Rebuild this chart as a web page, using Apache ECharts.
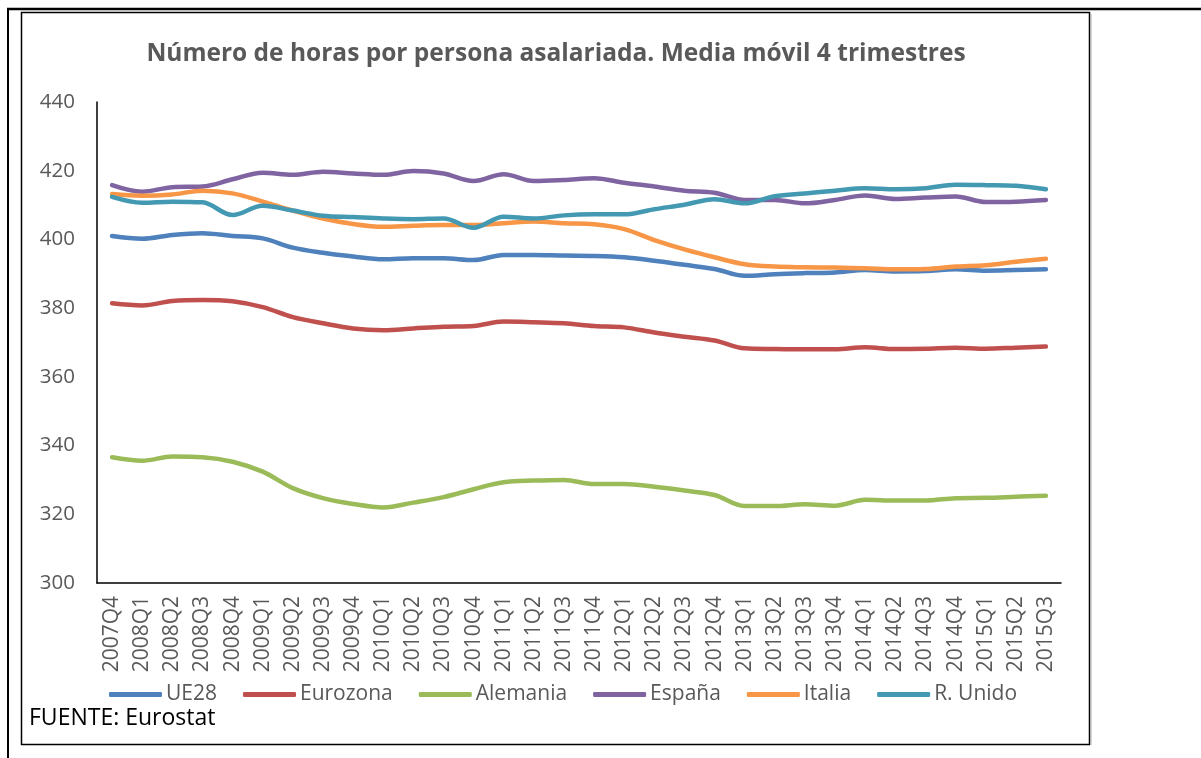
<!DOCTYPE html>
<html>
<head>
<meta charset="utf-8">
<script src="https://cdn.jsdelivr.net/npm/echarts@6/dist/echarts.min.js"></script>
<style>
  html, body { margin: 0; padding: 0; background: #fff; }
  #chart { width: 1201px; height: 758px; }
</style>
</head>
<body>
<div id="chart"></div>
<script>
// trimestres
const categories = [
    "2007Q4", "2008Q1", "2008Q2", "2008Q3", "2008Q4", "2009Q1", "2009Q2", "2009Q3",
    "2009Q4", "2010Q1", "2010Q2", "2010Q3", "2010Q4", "2011Q1", "2011Q2", "2011Q3",
    "2011Q4", "2012Q1", "2012Q2", "2012Q3", "2012Q4", "2013Q1", "2013Q2", "2013Q3",
    "2013Q4", "2014Q1", "2014Q2", "2014Q3", "2014Q4", "2015Q1", "2015Q2", "2015Q3"
]

const ue28 = [401.0, 400.2, 401.3, 401.8, 401.0, 400.3, 397.6, 396.1, 395.0, 394.2, 394.5, 394.5, 394.0, 395.5, 395.5, 395.3,
    395.2, 394.8, 393.8, 392.6, 391.4, 389.4, 389.9, 390.2, 390.4, 391.1, 390.7, 390.8, 391.3, 390.9, 391.1, 391.3]
const eurozona = [381.4, 380.8, 382.1, 382.4, 382.0, 380.3, 377.4, 375.6, 374.1, 373.6, 374.1, 374.6, 374.8, 376.1, 375.9, 375.6,
    374.8, 374.4, 372.9, 371.7, 370.6, 368.3, 368.1, 368.0, 368.0, 368.6, 368.1, 368.2, 368.5, 368.2, 368.5, 368.8]
const alemania = [336.6, 335.6, 336.8, 336.6, 335.3, 332.4, 327.6, 324.7, 323.0, 322.0, 323.4, 325.0, 327.3, 329.3, 329.8, 330.0,
    328.8, 328.8, 328.0, 326.9, 325.6, 322.4, 322.4, 322.9, 322.5, 324.2, 324.0, 324.0, 324.7, 324.8, 325.1, 325.4]
const espana = [415.8, 413.9, 415.2, 415.4, 417.5, 419.4, 418.8, 419.7, 419.2, 418.8, 419.9, 419.2, 417.0, 419.0, 417.0, 417.3,
    417.8, 416.5, 415.4, 414.2, 413.6, 411.5, 411.5, 410.5, 411.5, 412.8, 411.8, 412.2, 412.5, 410.9, 411.0, 411.5]
const italia = [413.2, 412.7, 413.1, 414.2, 413.4, 411.0, 408.4, 406.1, 404.5, 403.7, 404.0, 404.2, 404.2, 404.7, 405.2, 404.7,
    404.4, 403.0, 399.8, 397.1, 394.8, 392.8, 392.1, 391.9, 391.8, 391.6, 391.3, 391.4, 392.1, 392.5, 393.5, 394.4]
const rUnido = [412.4, 410.7, 411.0, 410.8, 407.1, 409.8, 408.4, 406.9, 406.5, 406.1, 405.9, 406.1, 403.4, 406.6, 406.1, 407.0,
    407.3, 407.3, 408.8, 410.1, 411.7, 410.5, 412.6, 413.4, 414.2, 414.9, 414.6, 414.9, 415.9, 415.8, 415.6, 414.6]

const seriesNames = ["UE28", "Eurozona", "Alemania", "España", "Italia", "R. Unido"]
const seriesData = [ue28, eurozona, alemania, espana, italia, rUnido]
const colorList = ["#4F81BD", "#C0504D", "#9BBB59", "#8064A2", "#F79646", "#4399B2"]

const fontName = "Open Sans"
const labelColor = "#595959"

let series = seriesNames.map((name, i) => {
    return {
        name: name,
        type: "line",
        data: seriesData[i],
        smooth: 0.35,
        symbol: "none",
        lineStyle: { width: 4.5, cap: "round", join: "round" },
        z: 2 + i
    }
})

let EC = echarts.init(document.getElementById("chart"))
EC.setOption({
    animation: false,
    color: colorList,
    textStyle: { fontFamily: fontName },
    title: {
        text: "Número de horas por persona asalariada. Media móvil 4 trimestres",
        left: 551,
        top: 37,
        textAlign: "center",
        textStyle: { color: labelColor, fontSize: 24.5, fontWeight: "bold", fontFamily: fontName }
    },
    legend: {
        data: seriesNames,
        left: 104,
        top: 679,
        icon: "roundRect",
        itemWidth: 53,
        itemHeight: 5,
        itemGap: 26,
        textStyle: { color: labelColor, fontSize: 21, fontFamily: fontName, padding: [0, 0, 0, -1] }
    },
    grid: { left: 97, top: 102, right: 140, bottom: 175, containLabel: false },
    xAxis: {
        type: "category",
        data: categories,
        boundaryGap: true,
        axisLine: { lineStyle: { color: "#000", width: 1.5 } },
        axisTick: { show: false },
        axisLabel: { rotate: 90, margin: 13, interval: 0, color: labelColor, fontSize: 21, fontFamily: fontName }
    },
    yAxis: {
        type: "value",
        min: 300,
        max: 440,
        interval: 20,
        axisLine: { show: true, lineStyle: { color: "#000", width: 1.5 } },
        axisTick: { show: false },
        splitLine: { show: false },
        axisLabel: { margin: 22, color: labelColor, fontSize: 20.5, fontFamily: fontName }
    },
    graphic: [
        // marco exterior
        { type: "line", shape: { x1: 7, y1: 9, x2: 1201, y2: 9 }, style: { stroke: "#000", lineWidth: 2.5 } },
        { type: "line", shape: { x1: 8, y1: 9, x2: 8, y2: 758 }, style: { stroke: "#000", lineWidth: 2 } },
        // marco del gráfico
        { type: "rect", shape: { x: 21.5, y: 12.5, width: 1068, height: 732 }, style: { fill: null, stroke: "#000", lineWidth: 1.5 } },
        { type: "line", shape: { x1: 1091, y1: 14, x2: 1091, y2: 745 }, style: { stroke: "#aaa", lineWidth: 1 } },
        {
            type: "text",
            left: 29,
            top: 707,
            style: { text: "FUENTE: Eurostat", fill: "#000", fontSize: 23, fontFamily: fontName }
        }
    ],
    series: series
})
</script>
</body>
</html>
